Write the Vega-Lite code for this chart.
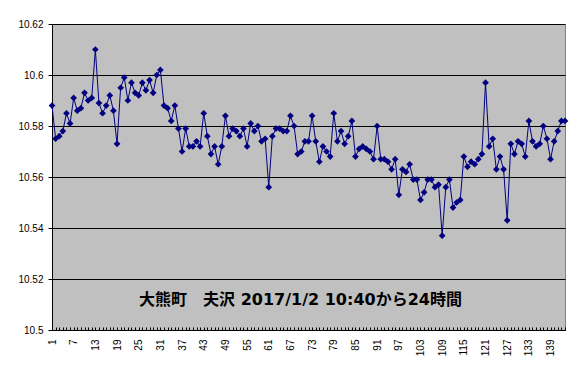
{
  "$schema": "https://vega.github.io/schema/vega-lite/v6.json",
  "width": 513,
  "height": 306,
  "padding": {"left": 12, "top": 19, "right": 16, "bottom": 5},
  "background": "white",
  "title": {
    "text": "大熊町　夫沢  2017/1/2 10:40から24時間",
    "orient": "bottom",
    "frame": "group",
    "anchor": "middle",
    "offset": -64,
    "dx": -8,
    "font": "DejaVu Sans, Noto Sans CJK JP",
    "fontSize": 16,
    "fontWeight": "bold",
    "color": "black"
  },
  "data": {
    "values": [
      {"n":1,"v":10.588},{"n":2,"v":10.575},{"n":3,"v":10.576},{"n":4,"v":10.578},{"n":5,"v":10.585},
      {"n":6,"v":10.581},{"n":7,"v":10.591},{"n":8,"v":10.586},{"n":9,"v":10.587},{"n":10,"v":10.593},
      {"n":11,"v":10.590},{"n":12,"v":10.591},{"n":13,"v":10.610},{"n":14,"v":10.589},{"n":15,"v":10.585},
      {"n":16,"v":10.588},{"n":17,"v":10.592},{"n":18,"v":10.586},{"n":19,"v":10.573},{"n":20,"v":10.595},
      {"n":21,"v":10.599},{"n":22,"v":10.590},{"n":23,"v":10.597},{"n":24,"v":10.593},{"n":25,"v":10.592},
      {"n":26,"v":10.597},{"n":27,"v":10.594},{"n":28,"v":10.598},{"n":29,"v":10.593},{"n":30,"v":10.600},
      {"n":31,"v":10.602},{"n":32,"v":10.588},{"n":33,"v":10.587},{"n":34,"v":10.582},{"n":35,"v":10.588},
      {"n":36,"v":10.579},{"n":37,"v":10.570},{"n":38,"v":10.579},{"n":39,"v":10.572},{"n":40,"v":10.572},
      {"n":41,"v":10.574},{"n":42,"v":10.572},{"n":43,"v":10.585},{"n":44,"v":10.576},{"n":45,"v":10.569},
      {"n":46,"v":10.572},{"n":47,"v":10.565},{"n":48,"v":10.572},{"n":49,"v":10.584},{"n":50,"v":10.576},
      {"n":51,"v":10.579},{"n":52,"v":10.578},{"n":53,"v":10.576},{"n":54,"v":10.579},{"n":55,"v":10.572},
      {"n":56,"v":10.581},{"n":57,"v":10.578},{"n":58,"v":10.580},{"n":59,"v":10.574},{"n":60,"v":10.575},
      {"n":61,"v":10.556},{"n":62,"v":10.576},{"n":63,"v":10.579},{"n":64,"v":10.579},{"n":65,"v":10.578},
      {"n":66,"v":10.578},{"n":67,"v":10.584},{"n":68,"v":10.580},{"n":69,"v":10.569},{"n":70,"v":10.570},
      {"n":71,"v":10.574},{"n":72,"v":10.574},{"n":73,"v":10.584},{"n":74,"v":10.574},{"n":75,"v":10.566},
      {"n":76,"v":10.572},{"n":77,"v":10.570},{"n":78,"v":10.568},{"n":79,"v":10.585},{"n":80,"v":10.574},
      {"n":81,"v":10.578},{"n":82,"v":10.573},{"n":83,"v":10.576},{"n":84,"v":10.582},{"n":85,"v":10.568},
      {"n":86,"v":10.571},{"n":87,"v":10.572},{"n":88,"v":10.571},{"n":89,"v":10.570},{"n":90,"v":10.567},
      {"n":91,"v":10.580},{"n":92,"v":10.567},{"n":93,"v":10.567},{"n":94,"v":10.566},{"n":95,"v":10.563},
      {"n":96,"v":10.567},{"n":97,"v":10.553},{"n":98,"v":10.563},{"n":99,"v":10.562},{"n":100,"v":10.565},
      {"n":101,"v":10.559},{"n":102,"v":10.559},{"n":103,"v":10.551},{"n":104,"v":10.554},{"n":105,"v":10.559},
      {"n":106,"v":10.559},{"n":107,"v":10.556},{"n":108,"v":10.557},{"n":109,"v":10.537},{"n":110,"v":10.556},
      {"n":111,"v":10.559},{"n":112,"v":10.548},{"n":113,"v":10.550},{"n":114,"v":10.551},{"n":115,"v":10.568},
      {"n":116,"v":10.564},{"n":117,"v":10.566},{"n":118,"v":10.565},{"n":119,"v":10.567},{"n":120,"v":10.569},
      {"n":121,"v":10.597},{"n":122,"v":10.572},{"n":123,"v":10.575},{"n":124,"v":10.563},{"n":125,"v":10.568},
      {"n":126,"v":10.563},{"n":127,"v":10.543},{"n":128,"v":10.573},{"n":129,"v":10.569},{"n":130,"v":10.574},
      {"n":131,"v":10.573},{"n":132,"v":10.568},{"n":133,"v":10.582},{"n":134,"v":10.574},{"n":135,"v":10.572},
      {"n":136,"v":10.573},{"n":137,"v":10.580},{"n":138,"v":10.575},{"n":139,"v":10.567},{"n":140,"v":10.574},
      {"n":141,"v":10.578},{"n":142,"v":10.582},{"n":143,"v":10.582}
    ]
  },
  "mark": {
    "type": "line",
    "color": "#000080",
    "strokeWidth": 1,
    "clip": false,
    "point": {"shape": "diamond", "size": 45, "filled": true, "color": "#000080", "opacity": 1}
  },
  "encoding": {
    "x": {
      "field": "n",
      "type": "quantitative",
      "scale": {"domain": [1, 143], "nice": false, "zero": false},
      "axis": {
        "title": null,
        "grid": false,
        "values": [1,2,3,4,5,6,7,8,9,10,11,12,13,14,15,16,17,18,19,20,21,22,23,24,25,26,27,28,29,30,31,32,33,34,35,36,37,38,39,40,41,42,43,44,45,46,47,48,49,50,51,52,53,54,55,56,57,58,59,60,61,62,63,64,65,66,67,68,69,70,71,72,73,74,75,76,77,78,79,80,81,82,83,84,85,86,87,88,89,90,91,92,93,94,95,96,97,98,99,100,101,102,103,104,105,106,107,108,109,110,111,112,113,114,115,116,117,118,119,120,121,122,123,124,125,126,127,128,129,130,131,132,133,134,135,136,137,138,139,140,141,142,143],
        "labelExpr": "(datum.value - 1) % 6 == 0 ? datum.label : ''",
        "labelAngle": -90,
        "labelOverlap": false,
        "labelFlush": false,
        "labelPadding": 12,
        "tickSize": -3,
        "labelFontSize": 10
      }
    },
    "y": {
      "field": "v",
      "type": "quantitative",
      "scale": {"domain": [10.5, 10.62], "nice": false, "zero": false},
      "axis": {
        "title": null,
        "values": [10.5, 10.52, 10.54, 10.56, 10.58, 10.6, 10.62],
        "format": "~g",
        "grid": true,
        "tickSize": 4,
        "labelPadding": 5,
        "minExtent": 40,
        "maxExtent": 40,
        "labelFontSize": 10
      }
    }
  },
  "config": {
    "view": {"fill": "#C0C0C0", "stroke": "#808080", "strokeWidth": 1},
    "axis": {
      "labelFont": "Liberation Sans",
      "labelColor": "black",
      "domainColor": "black",
      "tickColor": "black",
      "gridColor": "black",
      "gridOpacity": 1,
      "gridWidth": 1,
      "domainWidth": 1,
      "tickWidth": 1
    }
  }
}
